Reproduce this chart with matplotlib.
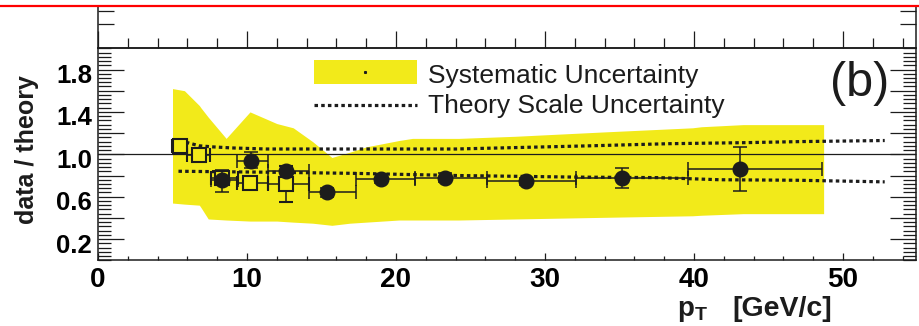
import matplotlib
matplotlib.use('Agg')
import matplotlib.pyplot as plt
from matplotlib.lines import Line2D
from matplotlib.patches import Rectangle
from matplotlib.ticker import MultipleLocator, FixedLocator, FuncFormatter, NullFormatter
from matplotlib.transforms import ScaledTranslation
import numpy as np

plt.rcParams['font.family'] = ['Liberation Sans', 'DejaVu Sans']
plt.rcParams['mathtext.fontset'] = 'custom'
plt.rcParams['mathtext.rm'] = 'Liberation Sans'
plt.rcParams['mathtext.bf'] = 'Liberation Sans:bold'

# ---------------- data ----------------
sys_x  = [5.0, 5.8, 6.8, 6.9, 7.4, 8.6, 10.2, 12.0, 13.1, 14.4, 15.7, 16.9, 18.0, 20.2, 21.1, 24.2, 28.0, 33.8, 39.9, 40.5, 43.3, 43.9, 48.7]
sys_hi = [1.62, 1.60, 1.46, 1.44, 1.35, 1.15, 1.40, 1.29, 1.25, 1.12, 0.97, 1.02, 1.07, 1.13, 1.15, 1.15, 1.17, 1.21, 1.25, 1.26, 1.28, 1.28, 1.28]
sys_lo = [0.54, 0.53, 0.52, 0.50, 0.39, 0.38, 0.37, 0.37, 0.36, 0.35, 0.33, 0.35, 0.36, 0.38, 0.38, 0.38, 0.39, 0.405, 0.42, 0.425, 0.44, 0.44, 0.44]

scale_hi_x = [5.0, 6.0, 6.8, 7.7, 9.0, 11.3, 24.0, 33.0, 38.3, 43.5, 47.2, 52.8]
scale_hi   = [1.13, 1.11, 1.08, 1.07, 1.06, 1.05, 1.05, 1.08, 1.10, 1.11, 1.12, 1.13]
scale_lo_x = [5.4, 12.0, 17.3, 24.0, 32.0, 37.6, 41.7, 47.0, 52.8]
scale_lo   = [0.84, 0.83, 0.82, 0.80, 0.785, 0.78, 0.76, 0.755, 0.74]

circ_x    = [8.3, 10.3, 12.6, 15.4, 19.0, 23.3, 28.7, 35.2, 43.1]
circ_y    = [0.76, 0.94, 0.84, 0.64, 0.77, 0.78, 0.745, 0.78, 0.86]
circ_xlo  = [7.6, 9.3, 11.4, 14.15, 17.3, 21.3, 26.1, 32.1, 39.6]
circ_xhi  = [9.4, 11.4, 14.15, 17.3, 21.3, 26.1, 32.1, 39.6, 48.6]
circ_elo  = [0.12, 0.07, 0.05, 0.04, 0.04, 0.04, 0.03, 0.095, 0.205]
circ_ehi  = [0.09, 0.08, 0.05, 0.04, 0.04, 0.04, 0.03, 0.09, 0.21]

sq_x   = [5.5, 6.75, 8.3, 10.2, 12.6]
sq_y   = [1.08, 0.99, 0.78, 0.73, 0.72]
sq_xlo = [5.0, 6.0, 7.6, 9.3, 11.4]
sq_xhi = [6.0, 7.5, 9.4, 11.4, 14.15]
sq_err = [0.05, 0.04, 0.06, 0.05, 0.17]

YELLOW = '#F2EA1A'
INK = '#1c1c1c'

W, H = 920, 326
fig = plt.figure(figsize=(9.2, 3.26), dpi=100)
def fx(px): return px / W
def fy(py): return 1 - py / H

L, R, T, B = 98, 916, 48.3, 260.3
ax = fig.add_axes([fx(L), fy(B), fx(R) - fx(L), fy(T) - fy(B)])
ax.set_xlim(0, 54.9)
ax.set_ylim(0, 2.0)

# systematic band
ax.fill_between(sys_x, sys_lo, sys_hi, color=YELLOW, lw=0, zorder=1)
# theory scale lines
dot = dict(color=INK, lw=2.3, linestyle=(0, (1.1, 1.0)), zorder=2, solid_capstyle='butt', dash_capstyle='butt')
ax.plot(scale_hi_x, scale_hi, **dot)
ax.plot(scale_lo_x, scale_lo, **dot)
# unity line
ax.axhline(1.0, color=INK, lw=0.9, zorder=3)

# data points
sx = np.array(sq_x); sy = np.array(sq_y)
ax.errorbar(sx, sy,
            xerr=[sx - np.array(sq_xlo), np.array(sq_xhi) - sx],
            yerr=[sq_err, sq_err],
            fmt='s', color=INK, mfc=YELLOW, mec=INK, mew=1.5, ms=10.5, capsize=5,
            elinewidth=1.1, capthick=1.1, zorder=4)
cx = np.array(circ_x); cy = np.array(circ_y)
ax.errorbar(cx, cy,
            xerr=[cx - np.array(circ_xlo), np.array(circ_xhi) - cx],
            yerr=[circ_elo, circ_ehi],
            fmt='o', color=INK, ms=10.5, capsize=5, elinewidth=1.1, capthick=1.1, zorder=5)

# legend (manual, like ROOT TLegend)
ax.add_patch(Rectangle((14.5, 1.66), 6.92, 0.23, color=YELLOW, lw=0, zorder=2))
ax.plot([17.95], [1.775], 's', color=INK, ms=1.2, zorder=3)
ax.plot([14.5, 21.42], [1.465, 1.465], **dot)
ax.text(22.16, 1.67, 'Systematic Uncertainty', fontsize=19, va='baseline', ha='left', color=INK)
ax.text(22.16, 1.392, 'Theory Scale Uncertainty', fontsize=19, va='baseline', ha='left', color=INK)

# ticks
ax.xaxis.set_major_locator(MultipleLocator(10))
ax.xaxis.set_minor_locator(MultipleLocator(2))
ax.yaxis.set_major_locator(FixedLocator([0.2, 0.4, 0.6, 0.8, 1.0, 1.2, 1.4, 1.6, 1.8]))
ax.yaxis.set_minor_locator(MultipleLocator(0.04))
ax.yaxis.set_major_formatter(FuncFormatter(lambda v, p: f'{v:.1f}' if int(round(v * 10)) % 4 == 2 else ''))
ax.tick_params(axis='x', which='major', direction='in', length=5.2, width=0.9, color=INK,
               top=False, bottom=True, labelsize=20, pad=5)
ax.tick_params(axis='x', which='minor', direction='in', length=2.6, width=0.9, color=INK,
               top=False, bottom=True)
ax.tick_params(axis='y', which='major', direction='in', length=18.5, width=0.9, color=INK,
               left=True, right=True, labelsize=18.5, pad=4.3)
ax.tick_params(axis='y', which='minor', direction='in', length=9.5, width=0.9, color=INK,
               left=True, right=True)
for lab in ax.get_xticklabels() + ax.get_yticklabels():
    lab.set_fontweight('bold')
for sp in ax.spines.values():
    sp.set_linewidth(1.1)
    sp.set_color(INK)

shift = ScaledTranslation(0, -0.04, fig.dpi_scale_trans)
for t in ax.yaxis.get_major_ticks():
    t.label1.set_transform(t.label1.get_transform() + shift)
    t.label1.set_fontweight('bold')

# upper panel remnant (a)
axa = fig.add_axes([fx(L), fy(T), fx(R) - fx(L), fy(6) - fy(T)])
axa.set_xlim(0, 54.9)
axa.set_ylim(0, T - 6)
axa.patch.set_alpha(0)
axa.spines['top'].set_visible(False)
for sp in ['left', 'right', 'bottom']:
    axa.spines[sp].set_linewidth(1.1)
    axa.spines[sp].set_color(INK)
axa.xaxis.set_major_locator(MultipleLocator(10))
axa.xaxis.set_minor_locator(MultipleLocator(2))
axa.set_yticks([T - 24.3, T - 11])
axa.xaxis.set_major_formatter(NullFormatter())
axa.yaxis.set_major_formatter(NullFormatter())
axa.tick_params(axis='x', which='major', direction='in', length=12, width=0.9, color=INK, top=False)
axa.tick_params(axis='x', which='minor', direction='in', length=7, width=0.9, color=INK, top=False)
axa.tick_params(axis='y', which='major', direction='in', length=11.5, width=0.9, color=INK,
                left=True, right=True)

# red crop line
fig.add_artist(Line2D([0, 1], [fy(6), fy(6)], transform=fig.transFigure, color='#ff0000', lw=1.6))

# labels
fig.text(fx(27), fy(150), 'data / theory', rotation=90, fontsize=18, fontweight='bold',
         ha='center', va='center', color=INK)
fig.text(fx(677), fy(316), r'$\mathbf{p}_{\mathbf{T}}$', fontsize=20, ha='left', va='baseline', color=INK)
fig.text(fx(732), fy(316), '[GeV/c]', fontsize=20.5, fontweight='bold', ha='left', va='baseline', color=INK)
fig.text(fx(860), fy(83), '(b)', fontsize=35, ha='center', va='center', color=INK)

fig.savefig('out.png', dpi=100)
